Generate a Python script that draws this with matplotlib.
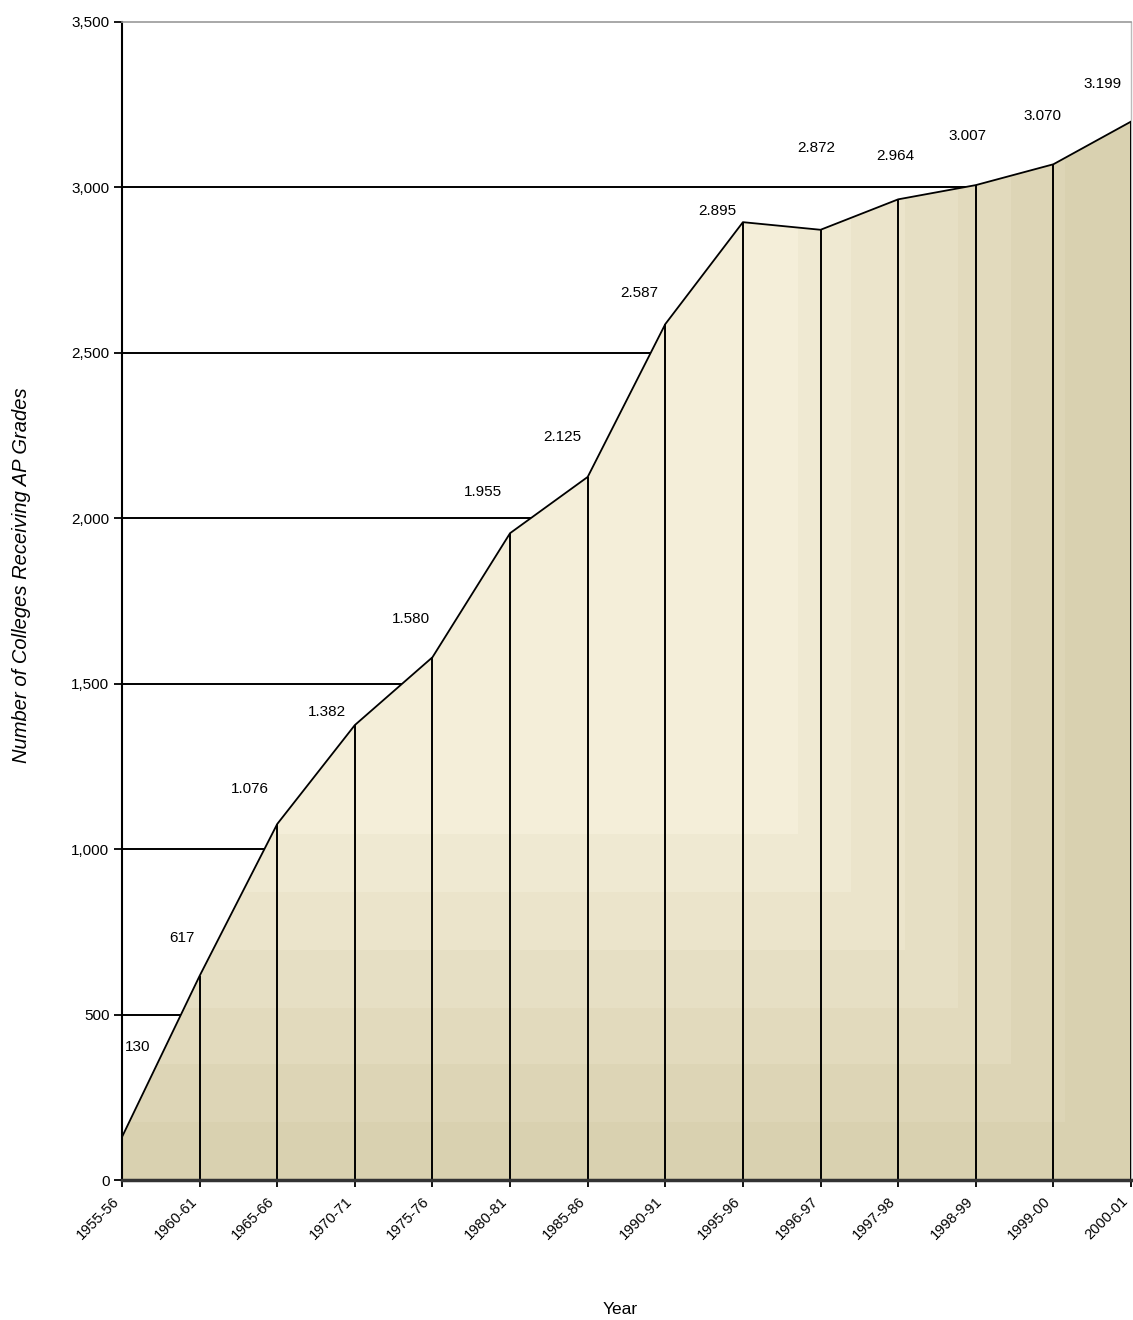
import numpy as np
import matplotlib
matplotlib.use("Agg")
import matplotlib.pyplot as plt
from matplotlib.colors import to_rgb

plt.rcParams['font.family'] = ['Liberation Sans', 'DejaVu Sans']

# data
years = ["1955-56", "1960-61", "1965-66", "1970-71", "1975-76", "1980-81", "1985-86",
         "1990-91", "1995-96", "1996-97", "1997-98", "1998-99", "1999-00", "2000-01"]
colleges = [130, 617, 1076, 1375, 1580, 1955, 2125, 2587, 2895, 2872, 2964, 3007, 3070, 3199]
value_labels = ["130", "617", "1.076", "1.382", "1.580", "1.955", "2.125", "2.587",
                "2.895", "2.872", "2.964", "3.007", "3.070", "3.199"]
y_ticks = [0, 500, 1000, 1500, 2000, 2500, 3000, 3500]

# where each value label sits relative to its point (pixels)
label_offsets = [(16, 90), (-18, 38), (-27, 35), (-28, 13), (-22, 38), (-27, 41), (-25, 40),
                 (-26, 31), (-26, 11), (-4, 82), (-3, 43), (-8, 49), (-11, 48), (-28, 38)]

fig = plt.figure(figsize=(11.33, 13.2), dpi=100)
ax = fig.add_axes([122 / 1133, 1 - 1180 / 1320, 1009 / 1133, 1158 / 1320])

x = np.arange(len(years))
ax.set_xlim(0, len(years) - 1)
ax.set_ylim(0, 3500)

# horizontal grid lines behind the area
for yt in y_ticks[1:-1]:
    ax.axhline(yt, color="black", lw=1.4, zorder=1)

# stepped corner gradient clipped to the area
band_cols = np.array([to_rgb(c) for c in ["#f4eed9", "#d9d1b0"]])
W, H = 800, 800
u = np.linspace(0, 1, W)[None, :]
v = np.linspace(0, 1, H)[:, None]
tx = (u - 0.67) / 0.053
ty = (v - 0.702) / 0.0497
band = np.clip(np.floor(np.maximum(tx, ty)) + 1, 0, 6) / 6.0
img = band_cols[0] + (band_cols[1] - band_cols[0]) * band[..., None]
poly = ax.fill_between(x, 0, colleges, facecolor="none", edgecolor="none", zorder=2)
im = ax.imshow(img, extent=(0, len(years) - 1, 0, 3500), origin="upper",
               aspect="auto", zorder=2, interpolation="nearest")
im.set_clip_path(poly.get_paths()[0], transform=ax.transData)

# outline and drop lines
ax.plot(x, colleges, color="black", lw=1.3, zorder=4)
ax.vlines(x, 0, colleges, color="black", lw=1.4, zorder=3)

for i, (val, lab) in enumerate(zip(colleges, value_labels)):
    ax.annotate(lab, (x[i], val), xytext=label_offsets[i], textcoords="offset pixels",
                ha="center", va="center", fontsize=11, zorder=5)

ax.set_yticks(y_ticks)
ax.set_yticklabels([f"{t:,}" for t in y_ticks], fontsize=11)
ax.set_xticks(x)
ax.set_xticklabels([])
# year labels placed a little left of their ticks, as in the original
for xi, yr in zip(x, years):
    ax.annotate(yr, (xi, 0), xycoords=ax.get_xaxis_transform(), xytext=(-10, -14),
                textcoords="offset pixels", rotation=45, ha="right", va="top",
                rotation_mode="anchor", fontsize=10.5, annotation_clip=False)
ax.tick_params(axis="y", direction="out", length=6, width=1.3, pad=3)
ax.tick_params(axis="x", direction="inout", length=10, width=1.3, pad=4)

ax.spines["left"].set_color("black")
ax.spines["left"].set_linewidth(1.5)
ax.spines["bottom"].set_color("#333333")
ax.spines["bottom"].set_linewidth(2.5)
ax.spines["bottom"].set_zorder(6)
ax.spines["top"].set_color("#999999")
ax.spines["right"].set_color("#bbbbbb")
ax.spines["top"].set_linewidth(1.2)
ax.spines["right"].set_linewidth(1.0)

ax.set_ylabel("Number of Colleges Receiving AP Grades", fontsize=14.5, fontstyle="italic")
ax.yaxis.set_label_coords(-0.090, 0.522)
ax.set_xlabel("Year", fontsize=12.5)
ax.xaxis.set_label_coords(0.4935, -0.105)

fig.savefig("out.png", dpi=100)
